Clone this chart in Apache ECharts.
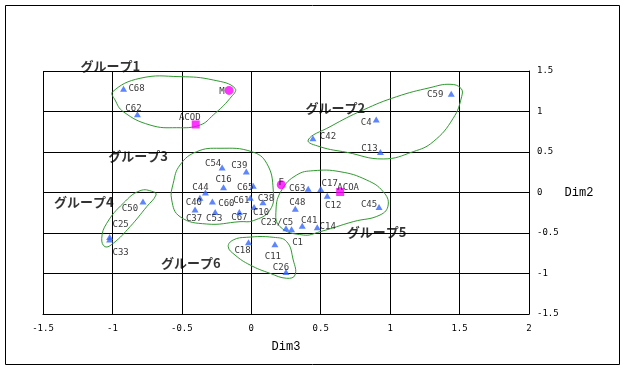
<!DOCTYPE html>
<html>
<head>
<meta charset="utf-8">
<script src="https://cdn.jsdelivr.net/npm/echarts@6/dist/echarts.min.js"></script>
<style>
html,body{margin:0;padding:0;background:#fff;}
#chart{width:626px;height:370px;}
</style>
</head>
<body>
<div id="chart"></div>
<script>
// ---- data ----
var pointNames = ['C68','C62','C54','C39','C16','C65','C44','C40','C60','C37','C53','C67','C61','C10','C38','C50','C25','C33','C18','C11','C26','C23/C5','C1','C41','C14','C48','C63','C17','C12','C45','C59','C4','C42','C13'];
var dim3 = [-0.92,-0.82,-0.21,-0.036,-0.20,0.014,-0.33,-0.37,-0.28,-0.405,-0.26,-0.086,-0.007,0.02,0.084,-0.78,-1.02,-1.02,-0.02,0.17,0.25,0.25,0.29,0.367,0.475,0.317,0.41,0.50,0.547,0.92,1.44,0.90,0.444,0.93];
var dim2 = [1.28,0.965,0.31,0.26,0.064,0.084,0.0,-0.064,-0.11,-0.21,-0.24,-0.24,-0.064,-0.18,-0.12,-0.11,-0.55,-0.58,-0.615,-0.64,-0.98,-0.44,-0.455,-0.41,-0.43,-0.20,0.047,0.043,-0.04,-0.18,1.22,0.90,0.67,0.50];

var circleNames = ['M','F'];
var circleDim3 = [-0.16,0.216];
var circleDim2 = [1.26,0.096];

var squareNames = ['ACOD','ACOA'];
var squareDim3 = [-0.40,0.64];
var squareDim2 = [0.84,0.006];

var groupNames = ['グループ1','グループ2','グループ3','グループ4','グループ5','グループ6'];
var groupLabelDim3 = [-1.23,0.39,-1.03,-1.42,0.687,-0.65];
var groupLabelDim2 = [1.565,1.047,0.454,-0.12,-0.484,-0.87];

// group outlines (annotation curves, in data units)
var outline1 = [[-0.998,1.244],[-0.801,1.410],[-0.513,1.430],[-0.274,1.389],[-0.117,1.286],[-0.153,1.163],[-0.274,0.957],[-0.369,0.833],[-0.537,0.800],[-0.729,0.833],[-0.922,0.998],[-0.981,1.142]];
var outline2 = [[0.410,0.648],[0.567,0.812],[0.806,1.019],[1.047,1.183],[1.287,1.294],[1.431,1.336],[1.510,1.286],[1.515,1.183],[1.454,0.916],[1.310,0.627],[1.166,0.504],[0.950,0.414],[0.687,0.496],[0.495,0.565]];
var outline3 = [[-0.225,0.546],[-0.393,0.504],[-0.513,0.340],[-0.562,0.114],[-0.573,-0.093],[-0.513,-0.299],[-0.321,-0.389],[-0.081,-0.360],[0.014,-0.348],[0.135,-0.216],[0.158,0.031],[0.111,0.360],[0.003,0.504]];
var outline4 = [[-0.706,0.010],[-0.801,0.022],[-0.922,-0.133],[-1.041,-0.380],[-1.077,-0.565],[-1.053,-0.669],[-0.994,-0.627],[-0.873,-0.422],[-0.753,-0.175],[-0.686,-0.031]];
var outline5 = [[0.446,0.269],[0.327,0.216],[0.219,0.031],[0.178,-0.216],[0.207,-0.422],[0.374,-0.525],[0.495,-0.484],[0.734,-0.360],[0.927,-0.278],[0.986,-0.154],[0.950,0.010],[0.831,0.154],[0.639,0.257]];
var outline6 = [[-0.166,-0.669],[-0.130,-0.586],[-0.033,-0.553],[0.158,-0.553],[0.255,-0.607],[0.302,-0.833],[0.315,-1.019],[0.255,-1.059],[0.135,-0.998],[-0.009,-0.895],[-0.117,-0.772]];
var outlines = [outline1,outline2,outline3,outline4,outline5,outline6];

// ---- label placement (pixel offsets from point centre) ----
var labelOffsets = {
  'C68':[13,0],'C62':[-4,-6],'C54':[-9,-4],'C39':[-7,-6],'C16':[0,-8],'C65':[-8,2],'C44':[-5,-5],
  'C40':[-6,5],'C60':[14,2],'C37':[-1,9],'C53':[-1,7],'C67':[0,6],'C61':[-9,3],'C10':[7,6],'C38':[3,-4],
  'C50':[-13,7],'C25':[11,-12],'C33':[11,13],'C18':[-6,8],'C11':[-2,12],'C26':[-5,-4],'C23/C5':[-9,-5],
  'C1':[6,13],'C41':[7,-5],'C14':[10.5,-1],'C48':[2,-6],'C63':[-11,0],'C17':[9,-5],'C12':[6,10],'C45':[-10,-2],
  'C59':[-16,1],'C4':[-10,3],'C42':[15,-2],'C13':[-11,-3],'M':[-7,1],'F':[0,-2],'ACOD':[-6,-7],'ACOA':[8,-4]
};

var smallFont = 'DejaVu Sans Mono';

function buildPoints(names, xs, ys){
  return names.map(function(n,i){
    var off = labelOffsets[n] || [0,0];
    return {name:n, value:[xs[i], ys[i]], label:{offset:off}};
  });
}

var pointLabel = {
  show:true, position:'inside', formatter:'{b}', color:'#000',
  fontFamily:smallFont, fontSize:9, align:'center', verticalAlign:'middle'
};

var chart = echarts.init(document.getElementById('chart'), null, {renderer:'canvas'});
var option = {
  backgroundColor:'#fff',
  animation:false,
  grid:{left:43, top:71, width:486, height:243, show:false},
  xAxis:{
    type:'value', min:-1.5, max:2, interval:0.5,
    name:'Dim3', nameLocation:'middle', nameGap:27,
    nameTextStyle:{fontFamily:'Liberation Mono', fontSize:12, color:'#000'},
    axisLine:{show:true, onZero:false, lineStyle:{color:'#000', width:1}},
    axisTick:{show:false},
    axisLabel:{color:'#000', fontFamily:smallFont, fontSize:9, margin:10},
    splitLine:{show:true, showMinLine:true, showMaxLine:true, lineStyle:{color:'#000', width:1}}
  },
  yAxis:{
    type:'value', position:'right', min:-1.5, max:1.5, interval:0.5,
    name:'Dim2', nameLocation:'middle', nameRotate:0, nameGap:30,
    nameTextStyle:{fontFamily:'Liberation Mono', fontSize:12, color:'#000', align:'left', verticalAlign:'middle'},
    axisLine:{show:true, onZero:false, lineStyle:{color:'#000', width:1}},
    axisTick:{show:false},
    axisLabel:{color:'#000', fontFamily:smallFont, fontSize:9, margin:8, align:'left'},
    splitLine:{show:true, showMinLine:true, showMaxLine:true, lineStyle:{color:'#000', width:1}}
  },
  graphic:[{
    type:'rect', shape:{x:5.5, y:5.5, width:614, height:359},
    style:{fill:'none', stroke:'#000', lineWidth:1}, silent:true, z:-10
  }],
  series:[
    {
      type:'custom', name:'outlines', clip:false, silent:true, z:3,
      data: outlines.map(function(o){ return [o[0][0], o[0][1]]; }),
      renderItem:function(params, api){
        var pts = outlines[params.dataIndex].map(function(p){ return api.coord(p); });
        return {type:'polygon', shape:{points:pts, smooth:0.45},
                style:{fill:'none', stroke:'#2f9a2f', lineWidth:1}};
      }
    },
    {
      type:'scatter', name:'cases', symbol:'triangle', symbolSize:[7,6], z:4,
      itemStyle:{color:'#3366ff'},
      label:pointLabel,
      data: buildPoints(pointNames, dim3, dim2)
    },
    {
      type:'scatter', name:'circles', symbol:'circle', symbolSize:9, z:4,
      itemStyle:{color:'#ff00ff'},
      label:pointLabel,
      data: buildPoints(circleNames, circleDim3, circleDim2)
    },
    {
      type:'scatter', name:'squares', symbol:'rect', symbolSize:8, z:4,
      itemStyle:{color:'#ff00ff'},
      label:pointLabel,
      data: buildPoints(squareNames, squareDim3, squareDim2)
    },
    {
      type:'scatter', name:'groups', symbolSize:2, clip:false, z:5, silent:true,
      itemStyle:{color:'rgba(0,0,0,0)'},
      label:{show:true, position:'inside', formatter:'{b}', color:'#000',
             fontFamily:'Noto Sans CJK JP', fontWeight:'bold', fontSize:13,
             align:'left', verticalAlign:'middle'},
      data: groupNames.map(function(n,i){ return {name:n, value:[groupLabelDim3[i], groupLabelDim2[i]]}; })
    }
  ]
};
chart.setOption(option);
</script>
</body>
</html>
